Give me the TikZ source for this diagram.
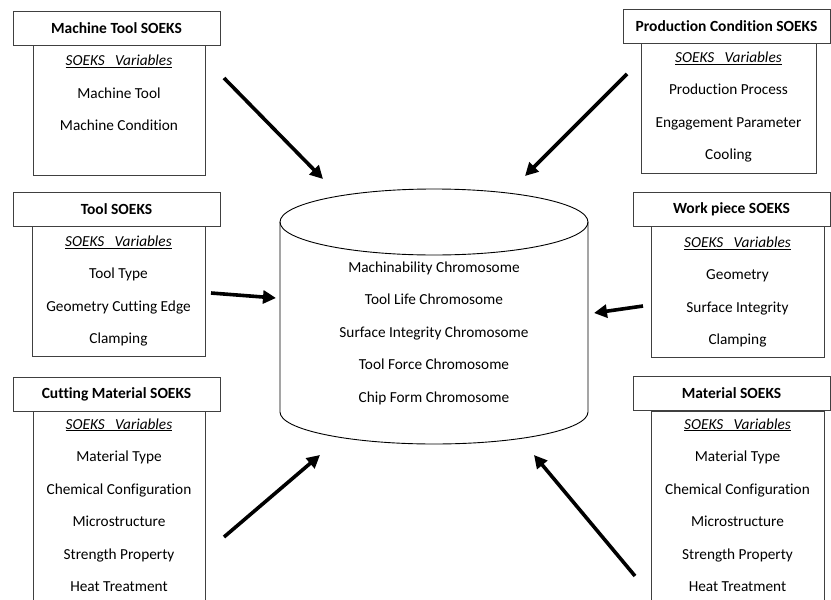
\documentclass[tikz,border=0pt]{standalone}
\usepackage{fontspec}
\setmainfont{Carlito}[Ligatures=NoCommon]
\usetikzlibrary{arrows.meta}
\begin{document}
\begin{tikzpicture}[x=1pt,y=-1pt,
  hdr/.style={draw=black!75, line width=0.9pt, minimum width=207pt, minimum height=34pt, inner sep=0pt, font=\fontsize{15.5}{17}\selectfont\bfseries},
  bodybox/.style={draw=black!75, line width=0.9pt},
  vars/.style={align=center, inner sep=0pt, font=\fontsize{15.3}{32.5}\selectfont},
  bigarrow/.style={line width=3.6pt, -{Triangle[length=13pt,width=13pt]}},
  cyl/.style={draw=black, line width=0.9pt}
]
\useasboundingbox (0,0) rectangle (831,600);
\fill[white] (0,0) rectangle (831,600);

% ---------- Machine Tool SOEKS
\draw[bodybox] (33,45) rectangle (205,175);
\node[hdr] (h1) at (116.5,28.5) {Machine Tool SOEKS};
\node[vars] (v1) at (119,93) {\underline{\textit{SOEKS\ \ \ Variables}}\\Machine Tool\\Machine Condition};

% ---------- Production Condition SOEKS
\draw[bodybox] (641,43) rectangle (816,173);
\node[hdr, minimum width=207pt] (h2) at (726.5,26) {Production Condition SOEKS};
\node[vars] (v2) at (728.5,107) {\underline{\textit{SOEKS\ \ \ Variables}}\\Production Process\\Engagement Parameter\\Cooling};

% ---------- Tool SOEKS
\draw[bodybox] (32,226) rectangle (205,356);
\node[hdr] (h3) at (116.5,209) {Tool SOEKS};
\node[vars] (v3) at (118.5,291) {\underline{\textit{SOEKS\ \ \ Variables}}\\Tool Type\\Geometry Cutting Edge\\Clamping};

% ---------- Work piece SOEKS
\draw[bodybox] (651,226) rectangle (824,357);
\node[hdr, minimum width=197pt] (h4) at (731.5,209) {Work piece SOEKS};
\node[vars] (v4) at (737.5,292) {\underline{\textit{SOEKS\ \ \ Variables}}\\Geometry\\Surface Integrity\\Clamping};

% ---------- Cutting Material SOEKS
\draw[bodybox] (33,604) -- (33,411) -- (205,411) -- (205,604);
\node[hdr] (h5) at (116.5,394) {Cutting Material SOEKS};
\node[vars] (v5) at (119,505) {\underline{\textit{SOEKS\ \ \ Variables}}\\Material Type\\Chemical Configuration\\Microstructure\\Strength Property\\Heat Treatment};

% ---------- Material SOEKS
\draw[bodybox] (651,604) -- (651,411) -- (824,411) -- (824,604);
\node[hdr, minimum width=197pt] (h6) at (731.5,393.5) {Material SOEKS};
\node[vars] (v6) at (737.5,505) {\underline{\textit{SOEKS\ \ \ Variables}}\\Material Type\\Chemical Configuration\\Microstructure\\Strength Property\\Heat Treatment};

% ---------- Cylinder
\draw[cyl] (434,222) ellipse [x radius=154, y radius=33];
\draw[cyl] (280,222) -- (280,412) arc[start angle=180, end angle=0, x radius=154, y radius=32] -- (588,222);
\node[vars] (db) at (434,333) {Machinability Chromosome\\Tool Life Chromosome\\Surface Integrity Chromosome\\Tool Force Chromosome\\Chip Form Chromosome};

% ---------- Arrows
\coordinate (a1s) at (224,78);  \coordinate (a1e) at (323,179);
\coordinate (a2s) at (627,74);  \coordinate (a2e) at (525,176);
\coordinate (a3s) at (211,293); \coordinate (a3e) at (276,298);
\coordinate (a4s) at (643,306); \coordinate (a4e) at (594,313);
\coordinate (a5s) at (224,537); \coordinate (a5e) at (320,455);
\coordinate (a6s) at (635,576); \coordinate (a6e) at (534,455);
\draw[bigarrow] (a1s) -- (a1e);
\draw[bigarrow] (a2s) -- (a2e);
\draw[bigarrow] (a3s) -- (a3e);
\draw[bigarrow] (a4s) -- (a4e);
\draw[bigarrow] (a5s) -- (a5e);
\draw[bigarrow] (a6s) -- (a6e);
\end{tikzpicture}
\end{document}
